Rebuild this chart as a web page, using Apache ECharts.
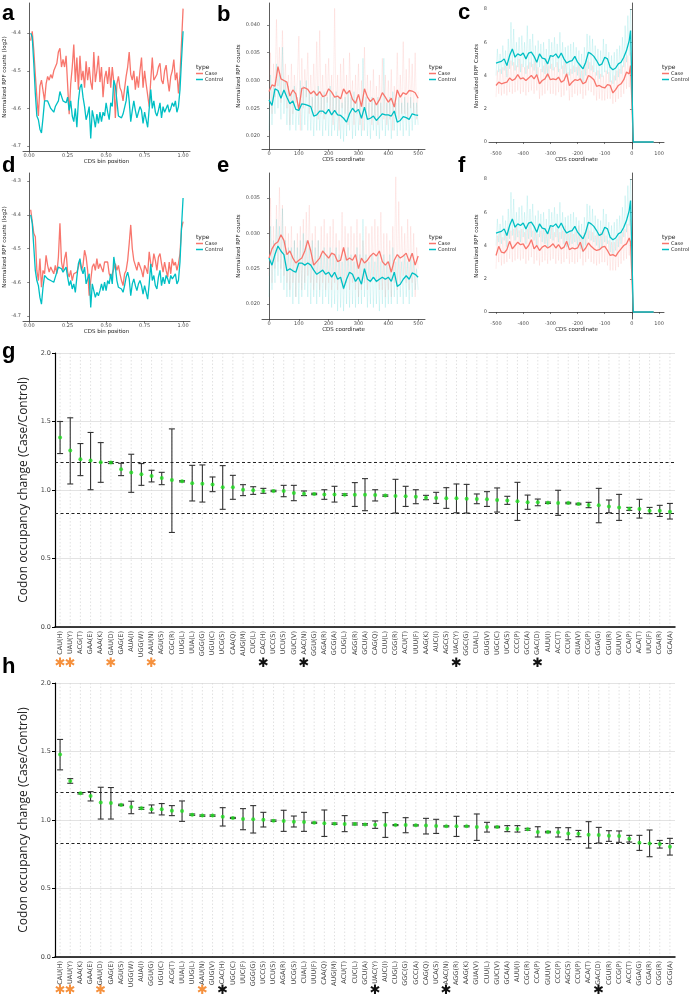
<!DOCTYPE html>
<html><head><meta charset="utf-8">
<script src="https://cdn.jsdelivr.net/npm/echarts@6/dist/echarts.min.js"></script>
<style>html,body{margin:0;padding:0;background:#fff}#main{width:696px;height:999px}</style>
</head><body><div id="main"></div>
<script>
// ---------- x grids ----------
const binPos = [0.01,0.02,0.03,0.04,0.05,0.06,0.07,0.08,0.09,0.10,0.11,0.12,0.13,0.14,0.15,0.16,0.17,0.18,0.19,0.20,
0.21,0.22,0.23,0.24,0.25,0.26,0.27,0.28,0.29,0.30,0.31,0.32,0.33,0.34,0.35,0.36,0.37,0.38,0.39,0.40,
0.41,0.42,0.43,0.44,0.45,0.46,0.47,0.48,0.49,0.50,0.51,0.52,0.53,0.54,0.55,0.56,0.57,0.58,0.59,0.60,
0.61,0.62,0.63,0.64,0.65,0.66,0.67,0.68,0.69,0.70,0.71,0.72,0.73,0.74,0.75,0.76,0.77,0.78,0.79,0.80,
0.81,0.82,0.83,0.84,0.85,0.86,0.87,0.88,0.89,0.90,0.91,0.92,0.93,0.94,0.95,0.96,0.97,0.98,0.99,1.00];
const coord10 = [0,10,20,30,40,50,60,70,80,90,100,110,120,130,140,150,160,170,180,190,200,210,220,230,240,250,
260,270,280,290,300,310,320,330,340,350,360,370,380,390,400,410,420,430,440,450,460,470,480,490,500];
const coord5 = [0,5,10,15,20,25,30,35,40,45,50,55,60,65,70,75,80,85,90,95,100,105,110,115,120,125,130,135,140,145,
150,155,160,165,170,175,180,185,190,195,200,205,210,215,220,225,230,235,240,245,250,255,260,265,270,275,280,285,290,295,
300,305,310,315,320,325,330,335,340,345,350,355,360,365,370,375,380,385,390,395,400,405,410,415,420,425,430,435,440,445,
450,455,460,465,470,475,480,485,490,495,500];
const stopX = [-500,-490,-480,-470,-460,-450,-440,-430,-420,-410,-400,-390,-380,-370,-360,-350,-340,-330,-320,-310,
-300,-290,-280,-270,-260,-250,-240,-230,-220,-210,-200,-190,-180,-170,-160,-150,-140,-130,-120,-110,
-100,-90,-80,-70,-60,-50,-40,-30,-20,-10,-5,5,20,40,60,80];
const stop5 = [-500,-495,-490,-485,-480,-475,-470,-465,-460,-455,-450,-445,-440,-435,-430,-425,-420,-415,-410,-405,
-400,-395,-390,-385,-380,-375,-370,-365,-360,-355,-350,-345,-340,-335,-330,-325,-320,-315,-310,-305,
-300,-295,-290,-285,-280,-275,-270,-265,-260,-255,-250,-245,-240,-235,-230,-225,-220,-215,-210,-205,
-200,-195,-190,-185,-180,-175,-170,-165,-160,-155,-150,-145,-140,-135,-130,-125,-120,-115,-110,-105,
-100,-95,-90,-85,-80,-75,-70,-65,-60,-55,-50,-45,-40,-35,-30,-25,-20,-15,-10,-5,0];

// ---------- panel a ----------
const aCase = [-4.42,-4.395,-4.445,-4.51,-4.57,-4.62,-4.54,-4.525,-4.53,-4.58,
-4.535,-4.515,-4.525,-4.51,-4.52,-4.5,-4.49,-4.48,-4.45,-4.44,
-4.49,-4.47,-4.49,-4.46,-4.465,-4.615,-4.535,-4.49,-4.43,-4.53,
-4.465,-4.55,-4.46,-4.525,-4.5,-4.545,-4.475,-4.525,-4.49,-4.53,
-4.55,-4.45,-4.53,-4.5,-4.46,-4.53,-4.49,-4.57,-4.52,-4.5,
-4.535,-4.49,-4.545,-4.49,-4.53,-4.625,-4.535,-4.515,-4.545,-4.555,
-4.58,-4.58,-4.515,-4.49,-4.45,-4.51,-4.525,-4.5,-4.55,-4.515,
-4.545,-4.5,-4.465,-4.545,-4.5,-4.535,-4.535,-4.595,-4.525,-4.465,
-4.525,-4.52,-4.51,-4.49,-4.48,-4.525,-4.535,-4.5,-4.485,-4.525,
-4.555,-4.515,-4.5,-4.47,-4.525,-4.505,-4.56,-4.51,-4.425,-4.335];
const aControl = [-4.4,-4.41,-4.48,-4.56,-4.62,-4.63,-4.655,-4.665,-4.625,-4.58,
-4.585,-4.58,-4.59,-4.6,-4.595,-4.61,-4.595,-4.595,-4.58,-4.555,
-4.555,-4.58,-4.58,-4.585,-4.57,-4.605,-4.58,-4.62,-4.635,-4.6,
-4.65,-4.58,-4.545,-4.535,-4.57,-4.595,-4.63,-4.615,-4.595,-4.68,
-4.605,-4.625,-4.65,-4.615,-4.64,-4.61,-4.635,-4.61,-4.62,-4.585,
-4.61,-4.63,-4.585,-4.595,-4.525,-4.54,-4.58,-4.62,-4.615,-4.625,
-4.615,-4.61,-4.58,-4.54,-4.58,-4.635,-4.605,-4.58,-4.605,-4.625,
-4.61,-4.595,-4.605,-4.64,-4.61,-4.63,-4.65,-4.6,-4.55,-4.6,
-4.58,-4.61,-4.62,-4.605,-4.585,-4.625,-4.595,-4.61,-4.605,-4.59,
-4.61,-4.6,-4.585,-4.595,-4.58,-4.61,-4.595,-4.55,-4.47,-4.395];
// ---------- panel d ----------
const dCase = [-4.385,-4.385,-4.455,-4.465,-4.565,-4.595,-4.53,-4.615,-4.565,-4.575,
-4.52,-4.55,-4.57,-4.555,-4.565,-4.575,-4.55,-4.575,-4.525,-4.425,
-4.54,-4.565,-4.53,-4.51,-4.57,-4.585,-4.565,-4.595,-4.575,-4.575,
-4.57,-4.555,-4.535,-4.565,-4.55,-4.505,-4.525,-4.565,-4.64,-4.595,
-4.555,-4.545,-4.565,-4.53,-4.56,-4.545,-4.545,-4.57,-4.54,-4.54,
-4.54,-4.575,-4.585,-4.575,-4.56,-4.545,-4.565,-4.55,-4.575,-4.595,
-4.61,-4.575,-4.565,-4.535,-4.485,-4.43,-4.5,-4.535,-4.53,-4.565,
-4.54,-4.545,-4.565,-4.585,-4.55,-4.56,-4.575,-4.51,-4.545,-4.555,
-4.515,-4.535,-4.565,-4.525,-4.515,-4.545,-4.57,-4.54,-4.565,-4.585,
-4.54,-4.575,-4.53,-4.55,-4.54,-4.565,-4.545,-4.515,-4.44,-4.42];
const dControl = [-4.4,-4.425,-4.495,-4.565,-4.595,-4.61,-4.645,-4.665,-4.615,-4.58,
-4.585,-4.59,-4.585,-4.595,-4.595,-4.6,-4.585,-4.59,-4.555,-4.55,
-4.56,-4.57,-4.565,-4.555,-4.585,-4.61,-4.595,-4.62,-4.605,-4.63,
-4.585,-4.545,-4.53,-4.56,-4.575,-4.555,-4.605,-4.61,-4.575,-4.675,
-4.605,-4.625,-4.645,-4.63,-4.64,-4.625,-4.605,-4.625,-4.6,-4.625,
-4.595,-4.605,-4.575,-4.605,-4.525,-4.555,-4.595,-4.615,-4.61,-4.62,
-4.63,-4.61,-4.585,-4.57,-4.59,-4.64,-4.605,-4.59,-4.61,-4.625,
-4.605,-4.595,-4.61,-4.635,-4.61,-4.63,-4.65,-4.605,-4.545,-4.595,
-4.58,-4.61,-4.62,-4.585,-4.565,-4.61,-4.585,-4.605,-4.58,-4.59,
-4.605,-4.58,-4.59,-4.595,-4.575,-4.605,-4.595,-4.54,-4.435,-4.35];
// ---------- panel b ----------
const bCase = [0.0280,0.0292,0.0290,0.0325,0.0303,0.0300,0.0297,0.0272,0.0283,0.0276,
0.0248,0.0286,0.0287,0.0284,0.0276,0.0281,0.0273,0.0280,0.0271,0.0273,
0.0285,0.0279,0.0270,0.0272,0.0267,0.0285,0.0276,0.0282,0.0266,0.0259,
0.0275,0.0253,0.0285,0.0270,0.0262,0.0268,0.0256,0.0265,0.0278,0.0270,
0.0261,0.0268,0.0252,0.0283,0.0270,0.0278,0.0275,0.0282,0.0281,0.0278,0.0268];
const bControl = [0.0265,0.0255,0.0285,0.0282,0.0268,0.0283,0.0270,0.0258,0.0263,0.0248,
0.0246,0.0258,0.0257,0.0255,0.0253,0.0236,0.0238,0.0245,0.0245,0.0240,
0.0248,0.0238,0.0246,0.0238,0.0237,0.0232,0.0225,0.0240,0.0250,0.0243,
0.0248,0.0232,0.0252,0.0230,0.0232,0.0236,0.0228,0.0234,0.0240,0.0238,
0.0238,0.0236,0.0245,0.0225,0.0228,0.0235,0.0233,0.0230,0.0240,0.0238,0.0237];
const bCaseRaw = [0.026,0.035,0.024,0.033,0.027,0.041,0.029,0.036,0.026,0.039,
0.028,0.033,0.025,0.031,0.022,0.033,0.024,0.031,0.026,0.030,
0.038,0.021,0.034,0.025,0.032,0.027,0.035,0.024,0.031,0.025,
0.033,0.024,0.037,0.023,0.039,0.024,0.031,0.023,0.033,0.026,
0.034,0.024,0.031,0.022,0.043,0.024,0.031,0.021,0.033,0.025,
0.034,0.024,0.031,0.022,0.035,0.025,0.030,0.022,0.031,0.024,
0.033,0.022,0.030,0.021,0.036,0.024,0.031,0.023,0.030,0.022,
0.032,0.023,0.029,0.022,0.031,0.024,0.034,0.023,0.031,0.022,
0.030,0.023,0.032,0.021,0.029,0.024,0.035,0.023,0.031,0.024,
0.037,0.024,0.032,0.023,0.034,0.025,0.033,0.024,0.035,0.023,0.028];
const bControlRaw = [0.021,0.031,0.022,0.029,0.024,0.033,0.025,0.031,0.023,0.036,
0.024,0.030,0.022,0.029,0.021,0.028,0.022,0.029,0.021,0.027,
0.022,0.030,0.021,0.029,0.022,0.030,0.021,0.028,0.021,0.027,
0.020,0.028,0.021,0.029,0.021,0.027,0.020,0.028,0.021,0.027,
0.020,0.029,0.020,0.027,0.021,0.028,0.020,0.027,0.0195,0.026,
0.019,0.027,0.020,0.028,0.021,0.027,0.0195,0.028,0.020,0.027,
0.021,0.026,0.020,0.034,0.021,0.027,0.020,0.026,0.0195,0.027,
0.021,0.026,0.020,0.027,0.0195,0.026,0.021,0.034,0.020,0.026,
0.021,0.027,0.0195,0.028,0.021,0.026,0.020,0.027,0.021,0.026,
0.020,0.027,0.021,0.026,0.020,0.027,0.021,0.026,0.022,0.026,0.022];
// ---------- panel e ----------
const eCase = [0.0265,0.0278,0.0285,0.0288,0.0298,0.0290,0.0270,0.0275,0.0265,0.0258,
0.0262,0.0265,0.0275,0.0290,0.0275,0.0255,0.0260,0.0265,0.0275,0.0270,
0.0265,0.0272,0.0270,0.0260,0.0262,0.0280,0.0262,0.0265,0.0262,0.0270,
0.0250,0.0265,0.0258,0.0262,0.0268,0.0272,0.0268,0.0275,0.0260,0.0255,
0.0260,0.0245,0.0262,0.0270,0.0265,0.0268,0.0272,0.0260,0.0272,0.0255,0.0268];
const eControl = [0.0265,0.0255,0.0270,0.0282,0.0275,0.0270,0.0247,0.0250,0.0247,0.0245,
0.0258,0.0258,0.0255,0.0258,0.0255,0.0248,0.0242,0.0245,0.0248,0.0242,
0.0245,0.0238,0.0245,0.0235,0.0238,0.0222,0.0235,0.0245,0.0242,0.0232,
0.0238,0.0228,0.0250,0.0235,0.0232,0.0238,0.0232,0.0235,0.0238,0.0235,
0.0238,0.0232,0.0245,0.0225,0.0228,0.0235,0.0240,0.0235,0.0244,0.0242,0.0238];
const eCaseRaw = [0.024,0.035,0.023,0.031,0.025,0.034,0.026,0.0365,0.025,0.034,
0.024,0.031,0.023,0.030,0.022,0.031,0.023,0.029,0.021,0.030,
0.023,0.031,0.022,0.032,0.023,0.033,0.024,0.034,0.023,0.030,
0.022,0.031,0.023,0.029,0.022,0.031,0.023,0.032,0.022,0.030,
0.023,0.031,0.022,0.032,0.023,0.030,0.022,0.029,0.023,0.033,
0.022,0.031,0.023,0.030,0.022,0.031,0.023,0.030,0.022,0.032,
0.021,0.030,0.022,0.029,0.023,0.031,0.022,0.030,0.023,0.031,
0.024,0.032,0.023,0.031,0.022,0.033,0.022,0.030,0.021,0.030,
0.022,0.029,0.021,0.031,0.023,0.038,0.022,0.0345,0.023,0.031,
0.024,0.030,0.023,0.032,0.022,0.031,0.023,0.030,0.021,0.028,0.025];
const eControlRaw = [0.021,0.031,0.022,0.029,0.023,0.032,0.024,0.031,0.023,0.0335,
0.022,0.029,0.021,0.028,0.021,0.028,0.020,0.029,0.021,0.028,
0.020,0.029,0.021,0.030,0.022,0.029,0.021,0.028,0.020,0.029,
0.021,0.028,0.020,0.029,0.021,0.027,0.020,0.028,0.021,0.027,
0.020,0.028,0.0195,0.027,0.020,0.028,0.019,0.027,0.0195,0.026,
0.019,0.027,0.020,0.028,0.0195,0.027,0.020,0.026,0.0195,0.028,
0.020,0.027,0.020,0.032,0.021,0.027,0.0195,0.026,0.020,0.027,
0.0195,0.026,0.020,0.027,0.019,0.026,0.020,0.027,0.0195,0.026,
0.020,0.027,0.020,0.028,0.021,0.026,0.020,0.027,0.021,0.026,
0.020,0.027,0.021,0.026,0.020,0.027,0.021,0.026,0.022,0.025,0.022];
// ---------- panels c / f ----------
const cControl = [4.75,4.8,4.85,5.0,4.6,5.2,5.6,5.1,5.3,5.2,
5.35,5.0,5.35,5.4,5.15,4.8,5.3,5.05,5.0,4.7,
5.2,5.15,5.3,5.05,5.35,5.0,4.75,4.85,4.9,5.15,
4.8,4.6,4.4,4.8,5.4,5.3,5.15,4.9,4.6,4.7,
5.1,5.0,4.5,4.35,4.45,4.7,4.8,5.1,5.5,6.1,
6.7,0,0,0,0,0];
const cCase = [3.4,3.6,3.5,3.55,3.6,3.85,3.7,3.8,4.05,3.8,
3.85,3.7,3.85,4.0,3.8,4.05,3.5,3.7,3.8,4.1,
3.75,3.8,3.75,3.9,3.6,3.7,4.1,3.4,3.6,3.75,
3.7,3.8,3.5,3.6,4.0,3.9,3.75,3.35,3.4,3.3,
3.25,3.45,3.4,2.95,3.15,3.4,3.5,3.75,4.2,4.1,
4.6,0,0,0,0,0];
const fControl = cControl; // the Control curve of f is drawn identical to c
const fCase = [3.4,3.95,3.6,3.55,3.75,4.25,3.8,4.0,4.2,4.05,
4.1,3.8,4.0,4.35,3.8,4.0,3.7,3.9,4.0,3.85,
3.95,4.1,3.85,4.05,3.8,3.9,4.25,3.75,3.85,3.8,
3.85,4.2,3.65,3.85,4.15,3.95,3.8,3.7,3.75,3.9,
3.95,3.7,3.4,3.45,3.35,3.6,3.8,4.0,4.1,4.45,
4.2,0,0,0,0,0];
const cControlRaw = [4.0,5.6,4.2,5.3,4.1,5.8,4.3,5.5,3.9,6.2,
4.4,7.2,4.6,6.8,4.3,6.0,4.5,6.3,4.2,6.4,
4.5,6.0,4.1,7.0,4.4,6.2,4.5,6.5,4.3,5.8,
4.0,6.1,4.5,5.9,4.2,6.0,4.1,5.6,3.9,6.2,
4.4,6.0,4.3,6.3,4.5,5.9,4.2,6.6,4.4,6.0,
4.1,5.7,3.9,5.8,4.0,5.9,4.1,6.0,4.2,5.7,
4.0,5.5,3.8,5.3,3.6,5.7,4.0,6.5,4.4,6.4,
4.3,6.2,4.2,5.8,4.0,5.6,3.8,5.5,3.9,6.2,
4.2,5.9,4.1,5.4,3.6,5.2,3.5,5.4,3.7,5.6,
3.9,5.8,4.1,6.3,4.5,7.0,4.8,7.6,5.2,8.0,5.6];
const cCaseRaw = [2.7,4.3,2.9,4.4,2.8,4.5,2.9,4.6,2.8,4.7,
3.0,4.9,2.9,4.8,3.0,4.6,3.1,5.0,2.9,4.7,
3.0,4.5,2.8,4.6,3.0,4.8,3.1,4.7,2.9,4.9,
3.1,4.5,2.6,4.4,2.8,4.6,2.9,5.0,3.1,4.6,
2.9,4.7,2.9,4.5,2.8,4.8,3.0,4.4,2.7,4.6,
2.8,4.9,3.1,4.2,2.5,4.4,2.7,4.6,2.9,4.5,
2.8,4.7,2.9,4.3,2.6,4.5,2.8,4.9,3.1,4.8,
3.0,4.6,2.8,4.2,2.5,4.3,2.6,4.1,2.5,4.0,
2.5,4.3,2.6,4.2,2.6,3.7,2.3,4.0,2.4,4.3,
2.6,4.4,2.7,4.6,2.9,5.1,3.2,5.2,3.3,5.4,3.8];
const fControlRaw = cControlRaw;
const fCaseRaw = [2.6,4.6,3.0,4.8,2.8,4.5,2.9,4.7,3.0,5.1,
3.2,4.9,3.0,5.0,3.1,5.2,3.2,4.9,3.1,5.0,
3.2,4.8,2.9,5.0,3.1,5.4,3.3,4.9,2.9,4.8,
3.1,4.7,2.8,4.9,3.0,5.0,3.1,4.8,2.9,4.9,
3.1,5.1,3.2,4.8,2.9,5.0,3.1,4.8,2.9,4.9,
3.0,5.2,3.2,4.7,2.9,4.8,3.0,4.7,2.9,4.8,
3.0,5.2,3.2,4.6,2.8,4.8,3.0,5.1,3.2,4.9,
3.0,4.8,2.9,4.6,2.8,4.7,2.9,4.8,3.0,4.9,
3.0,4.6,2.8,4.3,2.5,4.2,2.5,4.2,2.5,4.4,
2.7,4.6,2.9,4.8,3.1,5.0,3.2,5.3,3.4,5.6,3.6];

// ---------- panel g ----------
const gCodons = ['CAU(H)','UAU(Y)','ACG(T)','GAA(E)','AAA(K)','GAU(D)','GAG(E)','AUA(I)','UGG(W)','AAU(N)',
'AGU(S)','CGC(R)','UUG(L)','UUA(L)','GGG(G)','UGU(C)','UCG(S)','CAA(Q)','AUG(M)','CUC(L)',
'CAC(H)','UCC(S)','UCU(S)','GUC(V)','AAC(N)','GGU(G)','AGA(R)','GCG(A)','CUG(L)','AGG(R)',
'GCU(A)','CAG(Q)','CUU(L)','CGG(R)','ACU(T)','UUU(F)','AAG(K)','AUC(I)','AGC(S)','UAC(Y)',
'GGC(G)','CUA(L)','GUG(V)','UGC(C)','UCA(S)','CCC(P)','GCC(A)','GAC(D)','AUU(I)','ACC(T)',
'CCU(P)','GUA(V)','CCG(P)','GGA(G)','CGU(R)','GUU(V)','CCA(P)','ACA(T)','UUC(F)','CGA(R)','GCA(A)'];
const gMean = [1.383,1.288,1.224,1.215,1.202,1.2,1.151,1.127,1.115,1.102,
1.088,1.073,1.063,1.049,1.046,1.041,1.02,1.02,1.002,0.998,
0.993,0.993,0.993,0.978,0.973,0.971,0.968,0.968,0.966,0.966,
0.966,0.963,0.959,0.956,0.954,0.951,0.944,0.941,0.939,0.939,
0.937,0.934,0.932,0.927,0.924,0.917,0.91,0.91,0.907,0.905,
0.905,0.898,0.89,0.888,0.88,0.873,0.863,0.861,0.849,0.849,0.841];
const gLow = [1.266,1.044,1.105,1.002,1.056,1.193,1.105,0.983,1.034,1.059,
1.039,0.69,1.059,0.92,0.912,0.988,0.859,0.932,0.959,0.968,
0.976,0.988,0.951,0.922,0.959,0.966,0.932,0.912,0.96,0.88,
0.849,0.92,0.954,0.832,0.88,0.9,0.929,0.902,0.866,0.834,
0.832,0.9,0.88,0.839,0.895,0.778,0.859,0.885,0.902,0.815,
0.9,0.893,0.871,0.761,0.834,0.778,0.851,0.795,0.827,0.807,0.788];
const gHigh = [1.5,1.527,1.339,1.42,1.346,1.207,1.195,1.261,1.193,1.144,
1.129,1.446,1.068,1.18,1.183,1.095,1.178,1.107,1.039,1.024,
1.012,0.998,1.034,1.034,0.993,0.976,1.002,1.027,0.972,1.054,
1.083,1.002,0.964,1.078,1.027,1.002,0.961,0.983,1.017,1.044,
1.041,0.971,0.988,1.015,0.954,1.056,0.963,0.934,0.912,0.998,
0.91,0.903,0.91,1.012,0.927,0.968,0.873,0.932,0.873,0.888,0.902];
// ---------- panel h ----------
const hCodons = ['CAU(H)','UAU(Y)','AAA(K)','GAA(E)','GAU(D)','GAG(E)','AGU(S)','UGG(W)','AUA(I)','GGU(G)',
'UGU(C)','ACG(T)','UUA(L)','UUG(L)','AAU(N)','GUG(V)','CAC(H)','UGC(C)','UUC(F)','GGG(G)',
'UCC(S)','UCU(S)','AGA(R)','UCG(S)','CUA(L)','UUU(F)','CAA(Q)','AUG(M)','ACU(T)','CUC(L)',
'GCU(A)','UAC(Y)','AUC(I)','CUG(L)','GGC(G)','GCC(A)','CAG(Q)','UCA(S)','AAC(N)','AGG(R)',
'AAG(K)','GUA(V)','CUU(L)','GUC(V)','GCA(A)','AUU(I)','CGC(R)','CCA(P)','GUU(V)','CCC(P)',
'AGC(S)','CCU(P)','ACA(T)','GAC(D)','CGU(R)','CCG(P)','ACC(T)','GGA(G)','CGA(R)','CGG(R)','GCG(A)'];
const hMean = [1.478,1.285,1.195,1.176,1.127,1.124,1.11,1.095,1.085,1.078,
1.078,1.068,1.066,1.039,1.032,1.032,1.024,1.015,1.007,1.005,
1.002,0.995,0.993,0.988,0.985,0.98,0.976,0.973,0.971,0.971,
0.968,0.966,0.963,0.963,0.963,0.961,0.959,0.956,0.954,0.954,
0.954,0.949,0.949,0.949,0.937,0.934,0.932,0.912,0.912,0.91,
0.902,0.9,0.893,0.89,0.885,0.883,0.863,0.834,0.829,0.824,0.805];
const hLow = [1.366,1.268,1.19,1.139,1.007,1.007,1.105,1.046,1.078,1.051,
1.037,1.032,0.99,1.034,1.027,1.027,0.956,1.011,0.929,0.905,
0.949,0.99,0.917,0.949,0.917,0.976,0.88,0.968,0.915,0.964,
0.963,0.939,0.873,0.959,0.907,0.957,0.898,0.902,0.95,0.88,
0.95,0.851,0.912,0.944,0.915,0.912,0.925,0.876,0.907,0.876,
0.856,0.878,0.795,0.832,0.844,0.837,0.839,0.778,0.732,0.795,0.744];
const hHigh = [1.588,1.302,1.2,1.207,1.239,1.237,1.115,1.137,1.092,1.11,
1.12,1.105,1.139,1.044,1.037,1.037,1.09,1.019,1.083,1.105,
1.056,1.0,1.071,1.029,1.056,0.984,1.073,0.978,1.032,0.978,
0.973,0.993,1.054,0.967,1.017,0.965,1.012,1.005,0.958,1.027,
0.958,1.044,0.983,0.954,0.959,0.959,0.939,0.951,0.917,0.944,
0.944,0.924,0.988,0.946,0.922,0.92,0.888,0.888,0.927,0.851,0.866];
const orangeStar = ['CAU(H)','UAU(Y)','GAU(D)','AAU(N)'];
const blackStar = ['CAC(H)','UAC(Y)','AAC(N)','GAC(D)'];
const thresholds = [1.2, 0.833];

// ---------- build ----------
const RED = '#F8766D', CYAN = '#00BFC4', FONT = 'DejaVu Sans';
const chart = echarts.init(document.getElementById('main'));
const zip = (xs, ys) => xs.map((x, i) => [x, ys[i]]);

const panels = [
 {L:'a', grid:{left:23,top:3,width:167,height:148}, xr:[-0.04,1.045], xt:[0,0.25,0.5,0.75,1], xf:v=>v.toFixed(2), xn:'CDS bin position',
  yr:[-4.713,-4.32], yt:[-4.7,-4.6,-4.5,-4.4], yf:v=>v.toFixed(1), yn:'Normalized RPF counts (log2)', yg:13,
  lx:196, ly:64, lett:[2,3], x:binPos, cs:aCase, ct:aControl},
 {L:'b', grid:{left:262,top:3,width:163,height:146}, xr:[-23.5,523], xt:[0,100,200,300,400,500], xf:v=>String(v), xn:'CDS coordinate',
  yr:[0.01766,0.04396], yt:[0.020,0.025,0.030,0.035,0.040], yf:v=>v.toFixed(3), yn:'Normalized RPF counts', yg:16,
  lx:429, ly:64, lett:[217,4], x:coord10, cs:bCase, ct:bControl, rx:coord5, rcs:bCaseRaw, rct:bControlRaw},
 {L:'c', grid:{left:489,top:3,width:175,height:146}, xr:[-525.8,118], xt:[-500,-400,-300,-200,-100,0,100], xf:v=>String(v), xn:'CDS coordinate',
  yr:[-0.42,8.36], yt:[0,2,4,6,8], yf:v=>String(v), yn:'Normalized RPF Counts', yg:7,
  lx:662, ly:64, lett:[458,2], x:stopX, cs:cCase, ct:cControl, rx:stop5, rcs:cCaseRaw, rct:cControlRaw},
 {L:'d', grid:{left:23,top:173,width:167,height:148}, xr:[-0.04,1.045], xt:[0,0.25,0.5,0.75,1], xf:v=>v.toFixed(2), xn:'CDS bin position',
  yr:[-4.715,-4.276], yt:[-4.7,-4.6,-4.5,-4.4,-4.3], yf:v=>v.toFixed(1), yn:'Normalized RPF counts (log2)', yg:13,
  lx:196, ly:234, lett:[2,155], x:binPos, cs:dCase, ct:dControl},
 {L:'e', grid:{left:262,top:173,width:163,height:146}, xr:[-23.5,523], xt:[0,100,200,300,400,500], xf:v=>String(v), xn:'CDS coordinate',
  yr:[0.01788,0.03854], yt:[0.020,0.025,0.030,0.035], yf:v=>v.toFixed(3), yn:'Normalized RPF counts', yg:16,
  lx:429, ly:234, lett:[217,155], x:coord10, cs:eCase, ct:eControl, rx:coord5, rcs:eCaseRaw, rct:eControlRaw},
 {L:'f', grid:{left:489,top:173,width:175,height:146}, xr:[-525.8,118], xt:[-500,-400,-300,-200,-100,0,100], xf:v=>String(v), xn:'CDS coordinate',
  yr:[-0.42,8.36], yt:[0,2,4,6,8], yf:v=>String(v), yn:'Normalized RPF counts', yg:7,
  lx:662, ly:234, lett:[458,155], x:stopX, cs:fCase, ct:fControl, rx:stop5, rcs:fCaseRaw, rct:fControlRaw}
];

const grid = [], xAxis = [], yAxis = [], series = [], legend = [], graphic = [];
const axisCol = '#333', labCol = '#4d4d4d';
panels.forEach((p, i) => {
  grid.push(p.grid);
  xAxis.push({type:'value', gridIndex:i, min:p.xr[0], max:p.xr[1], name:p.xn, nameLocation:'middle', nameGap:6,
    nameTextStyle:{fontSize:5.5, color:'#222', fontFamily:FONT},
    axisLine:{lineStyle:{color:axisCol, width:0.8}}, axisTick:{length:2, customValues:p.xt, lineStyle:{color:axisCol, width:0.6}},
    axisLabel:{customValues:p.xt, formatter:p.xf, fontSize:5, color:labCol, margin:2, fontFamily:FONT}, splitLine:{show:false}});
  yAxis.push({type:'value', gridIndex:i, min:p.yr[0], max:p.yr[1], name:p.yn, nameLocation:'middle', nameGap:p.yg,
    nameTextStyle:{fontSize:5.5, color:'#222', fontFamily:FONT},
    axisLine:{show:true, lineStyle:{color:axisCol, width:0.8}}, axisTick:{show:true, length:2, customValues:p.yt, lineStyle:{color:axisCol, width:0.6}},
    axisLabel:{customValues:p.yt, formatter:p.yf, fontSize:5, color:labCol, margin:2, fontFamily:FONT}, splitLine:{show:false}});
  if (p.rx) {
    series.push({type:'line', name:'Case raw', xAxisIndex:i, yAxisIndex:i, data:zip(p.rx, p.rcs), showSymbol:false, silent:true,
      lineStyle:{color:RED, width:0.6, opacity:0.22}, itemStyle:{color:RED}, z:1});
    series.push({type:'line', name:'Control raw', xAxisIndex:i, yAxisIndex:i, data:zip(p.rx, p.rct), showSymbol:false, silent:true,
      lineStyle:{color:CYAN, width:0.6, opacity:0.22}, itemStyle:{color:CYAN}, z:1});
  }
  series.push({type:'line', name:'Case', xAxisIndex:i, yAxisIndex:i, data:zip(p.x, p.cs), showSymbol:false,
    lineStyle:{color:RED, width:1.3}, itemStyle:{color:RED}, z:3});
  series.push({type:'line', name:'Control', xAxisIndex:i, yAxisIndex:i, data:zip(p.x, p.ct), showSymbol:false,
    lineStyle:{color:CYAN, width:1.3}, itemStyle:{color:CYAN}, z:3});
  legend.push({left:p.lx, top:p.ly+7, orient:'vertical', data:['Case','Control'], icon:'rect', itemWidth:7, itemHeight:1.5,
    itemGap:1, padding:0, selectedMode:false, textStyle:{fontSize:5, color:'#222', fontFamily:FONT, padding:[0,0,0,-3]}});
  graphic.push({type:'text', left:p.lx, top:p.ly, style:{text:'type', font:'6px "DejaVu Sans"', fill:'#222'}});
  graphic.push({type:'text', left:p.lett[0], top:p.lett[1], style:{text:p.L, font:'bold 22px "Liberation Sans"', fill:'#000'}});
});

function errRender(params, api) {
  const x = api.value(0), lo = api.value(1), hi = api.value(2);
  const a = api.coord([x, lo]), b = api.coord([x, hi]);
  const cap = 3, st = {stroke:'#333', lineWidth:1.1};
  return {type:'group', children:[
    {type:'line', shape:{x1:a[0], y1:a[1], x2:b[0], y2:b[1]}, style:st},
    {type:'line', shape:{x1:a[0]-cap, y1:a[1], x2:a[0]+cap, y2:a[1]}, style:st},
    {type:'line', shape:{x1:b[0]-cap, y1:b[1], x2:b[0]+cap, y2:b[1]}, style:st}]};
}
function vgridRender(params, api) {
  const p = api.coord([api.value(0), 0]); const cs = params.coordSys;
  return {type:'line', shape:{x1:p[0], y1:cs.y, x2:p[0], y2:cs.y + cs.height},
    style:{stroke:'#d4d4d4', lineWidth:0.7, lineDash:[1.5, 2]}};
}
const occ = [
  {L:'g', grid:{left:55, top:353, width:620, height:274}, cats:gCodons, m:gMean, lo:gLow, hi:gHigh, lett:[2,341], starDy:37},
  {L:'h', grid:{left:55, top:683, width:620, height:274}, cats:hCodons, m:hMean, lo:hLow, hi:hHigh, lett:[2,656], starDy:34}
];
occ.forEach((p, k) => {
  const i = panels.length + k;
  grid.push(p.grid);
  xAxis.push({type:'category', gridIndex:i, data:p.cats, boundaryGap:true,
    axisLine:{lineStyle:{color:'#000', width:1.5}}, axisTick:{alignWithLabel:true, interval:0, length:3, lineStyle:{color:'#000'}},
    axisLabel:{rotate:90, interval:0, fontSize:6.5, color:'#444', margin:4, fontFamily:FONT}, splitLine:{show:false}});
  yAxis.push({type:'value', gridIndex:i, min:0, max:2, interval:0.5, name:'Codon occupancy change (Case/Control)',
    nameLocation:'middle', nameGap:16, nameTextStyle:{fontSize:12, color:'#222', fontFamily:'Open Sans'},
    axisLine:{show:true, lineStyle:{color:'#000', width:1.2}}, axisTick:{show:true, length:3, lineStyle:{color:'#000'}},
    axisLabel:{formatter:v=>v.toFixed(1), fontSize:6.5, color:'#444', margin:4, fontFamily:FONT},
    splitLine:{lineStyle:{color:'#e3e3e3', width:1}}});
  const errData = p.cats.map((c, j) => [j, p.lo[j], p.hi[j]]);
  series.push({type:'custom', xAxisIndex:i, yAxisIndex:i, renderItem:vgridRender, data:errData, silent:true, z:0});
  series.push({type:'custom', xAxisIndex:i, yAxisIndex:i, renderItem:errRender, data:errData, silent:true, z:3});
  series.push({type:'scatter', xAxisIndex:i, yAxisIndex:i, data:p.m, symbolSize:4, itemStyle:{color:'#1fe01f'}, z:5, silent:true,
    markLine:{silent:true, symbol:'none', label:{show:false}, lineStyle:{color:'#222', type:[3,2.5], width:1},
      data:thresholds.map(t => ({yAxis:t}))}});
  graphic.push({type:'text', left:p.lett[0], top:p.lett[1], style:{text:p.L, font:'bold 22px "Liberation Sans"', fill:'#000'}});
});

chart.setOption({animation:false, backgroundColor:'#fff', textStyle:{fontFamily:FONT}, grid, xAxis, yAxis, series, legend, graphic});

// significance stars under codon labels, placed through the category axis scale
const stars = [];
occ.forEach((p, k) => {
  const i = panels.length + k;
  p.cats.forEach((c, j) => {
    const col = orangeStar.includes(c) ? '#F5913E' : (blackStar.includes(c) ? '#111' : null);
    if (!col) return;
    const pt = chart.convertToPixel({xAxisIndex:i, yAxisIndex:i}, [j, 0]);
    stars.push({type:'text', x:pt[0], y:pt[1] + p.starDy,
      style:{text:'✱', font:'13px "DejaVu Sans"', fill:col, align:'center', verticalAlign:'middle'}});
  });
});
chart.setOption({graphic: graphic.concat(stars)});
</script></body></html>
